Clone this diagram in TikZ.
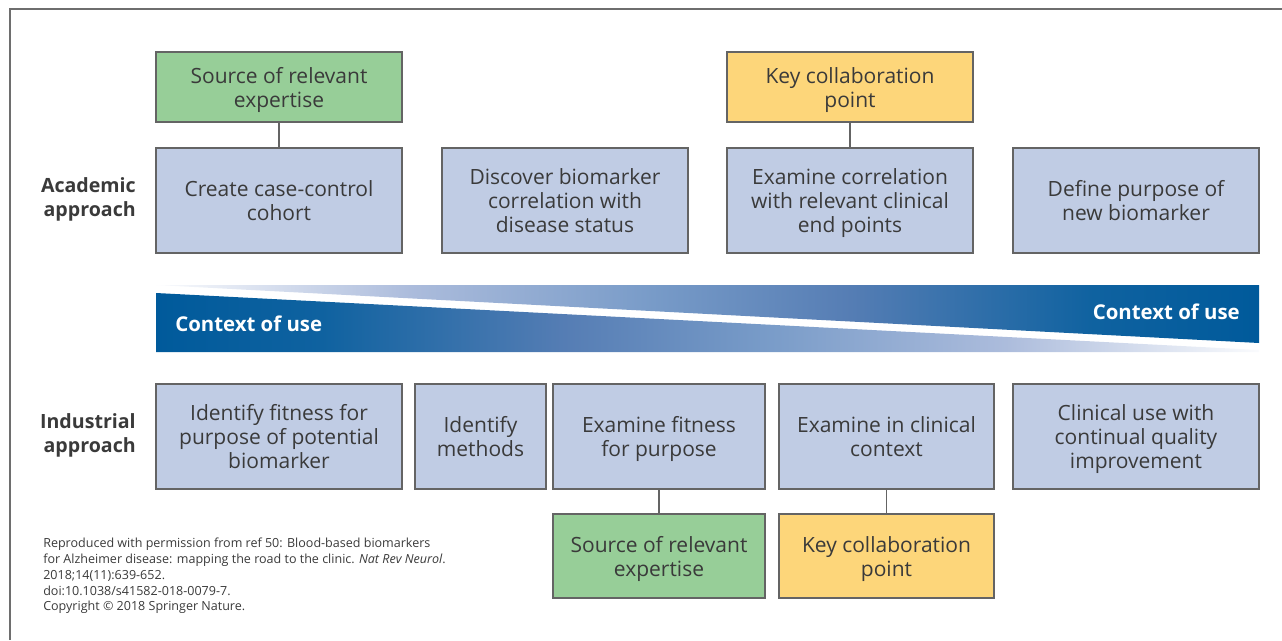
\documentclass[tikz,border=0pt]{standalone}
\usepackage{fontspec}
\setmainfont{Open Sans}
\definecolor{boxblue}{RGB}{192,204,228}
\definecolor{boxgreen}{RGB}{151,206,152}
\definecolor{boxyellow}{RGB}{253,214,122}
\definecolor{edgegray}{RGB}{100,100,100}
\definecolor{txtgray}{RGB}{58,58,58}
\definecolor{framegray}{RGB}{110,110,110}
\definecolor{bandA}{RGB}{0,90,155}
\definecolor{bandB}{RGB}{15,98,160}
\definecolor{bandC}{RGB}{85,125,180}
\definecolor{bandD}{RGB}{120,155,200}
\definecolor{bandE}{RGB}{172,188,220}
\definecolor{bandF}{RGB}{250,251,253}
\pgfdeclarehorizontalshading{bandLR}{100bp}{color(0bp)=(bandA); color(25bp)=(bandA); color(32.5bp)=(bandB); color(43.5bp)=(bandC); color(52.5bp)=(bandD); color(63.5bp)=(bandE); color(75bp)=(bandF); color(100bp)=(bandF)}
\pgfdeclarehorizontalshading{bandRL}{100bp}{color(0bp)=(bandF); color(25bp)=(bandF); color(36.5bp)=(bandE); color(47.5bp)=(bandD); color(56.5bp)=(bandC); color(67.5bp)=(bandB); color(75bp)=(bandA); color(100bp)=(bandA)}
\newcommand\dpfix{\rule[-0.28em]{0pt}{0pt}}
\begin{document}
\begin{tikzpicture}[x=0.75pt,y=-0.75pt,
  base/.style={draw=edgegray, line width=1.1pt, inner sep=0pt},
  btext/.style={align=center, inner sep=0pt, text=txtgray, yshift=-2.4pt,
    font=\fontsize{15.75}{18.1}\selectfont},
  abox/.style={base, fill=boxblue},
  gbox/.style={base, fill=boxgreen},
  ybox/.style={base, fill=boxyellow},
  dim/.style 2 args={minimum width=#1*0.75pt, minimum height=#2*0.75pt},
  conn/.style={draw=edgegray, line width=1.1pt},
  rowlab/.style={anchor=east, align=right, font=\bfseries\fontsize{14.7}{18}\selectfont, text=txtgray, inner sep=0pt},
  ctx/.style={font=\bfseries\fontsize{15.3}{17}\selectfont, text=white, inner sep=0pt},
  note/.style={anchor=north west, align=left, inner sep=0pt, text=txtgray, font=\fontsize{9.4}{11.8}\selectfont}
]
\useasboundingbox (0,0) rectangle (1282,640);
% frame
\draw[framegray, line width=1.1pt] (10,640) -- (10,9) -- (1282,9);

% top row
\node[gbox, dim={246}{70}, label={[btext]center:{Source of relevant\\expertise\dpfix}}] (g1) at (279,87) {};
\node[ybox, dim={246}{70}, label={[btext]center:{Key collaboration\\point\dpfix}}] (y1) at (850,87) {};

% academic row
\node[abox, dim={246}{105}, label={[btext]center:{Create case-control\\cohort\dpfix}}] (a1) at (279,200.5) {};
\node[abox, dim={246}{105}, label={[btext]center:{Discover biomarker\\correlation with\\disease status\dpfix}}] (a2) at (565,200.5) {};
\node[abox, dim={246}{105}, label={[btext]center:{Examine correlation\\with relevant clinical\\end points\dpfix}}] (a3) at (850,200.5) {};
\node[abox, dim={246}{105}, label={[btext]center:{Define purpose of\\new biomarker\dpfix}}] (a4) at (1136,200.5) {};

\draw[conn] (g1.south) -- (a1.north);
\draw[conn] (y1.south) -- (a3.north);

\node[rowlab] (lacad) at (136,199.5) {Academic\\approach};
\node[rowlab] (lind) at (136,435.5) {Industrial\\approach};

% band
\shade[shading=bandLR]
  (156,293) -- (1259,350) -- (1259,352) -- (156,352) -- cycle;
\shade[shading=bandRL]
  (156,285) -- (1259,285) -- (1259,343) -- cycle;
\node[ctx, anchor=west] (c1) at (175,323.5) {Context of use};
\node[ctx, anchor=east] (c2) at (1240,311.5) {Context of use};

% industrial row
\node[abox, dim={246}{105}, label={[btext]center:{Identify fitness for\\purpose of potential\\biomarker\dpfix}}] (b1) at (279,436.5) {};
\node[abox, dim={131}{105}, label={[btext]center:{Identify\\methods\dpfix}}] (b2) at (480.5,436.5) {};
\node[abox, dim={212}{105}, label={[btext]center:{Examine fitness\\for purpose\dpfix}}] (b3) at (659,436.5) {};
\node[abox, dim={215}{105}, label={[btext]center:{Examine in clinical\\context\dpfix}}] (b4) at (886.5,436.5) {};
\node[abox, dim={246}{105}, label={[btext]center:{Clinical use with\\continual quality\\improvement\dpfix}}] (b5) at (1136,436.5) {};

\node[gbox, dim={212}{84}, label={[btext]center:{Source of relevant\\expertise\dpfix}}] (g2) at (659,556) {};
\node[ybox, dim={215}{84}, label={[btext]center:{Key collaboration\\point\dpfix}}] (y2) at (886.5,556) {};

\draw[conn] (b3.south) -- (g2.north);
\draw[conn] (b4.south) -- (y2.north);

\node[note] (fn) at (43,538) {Reproduced with permission from ref 50: Blood-based biomarkers\\
for Alzheimer disease: mapping the road to the clinic. \textit{Nat Rev Neurol}.\\
2018;14(11):639-652.\\
doi:10.1038/s41582-018-0079-7.\\
Copyright \textcopyright{} 2018 Springer Nature.};
\end{tikzpicture}
\end{document}
